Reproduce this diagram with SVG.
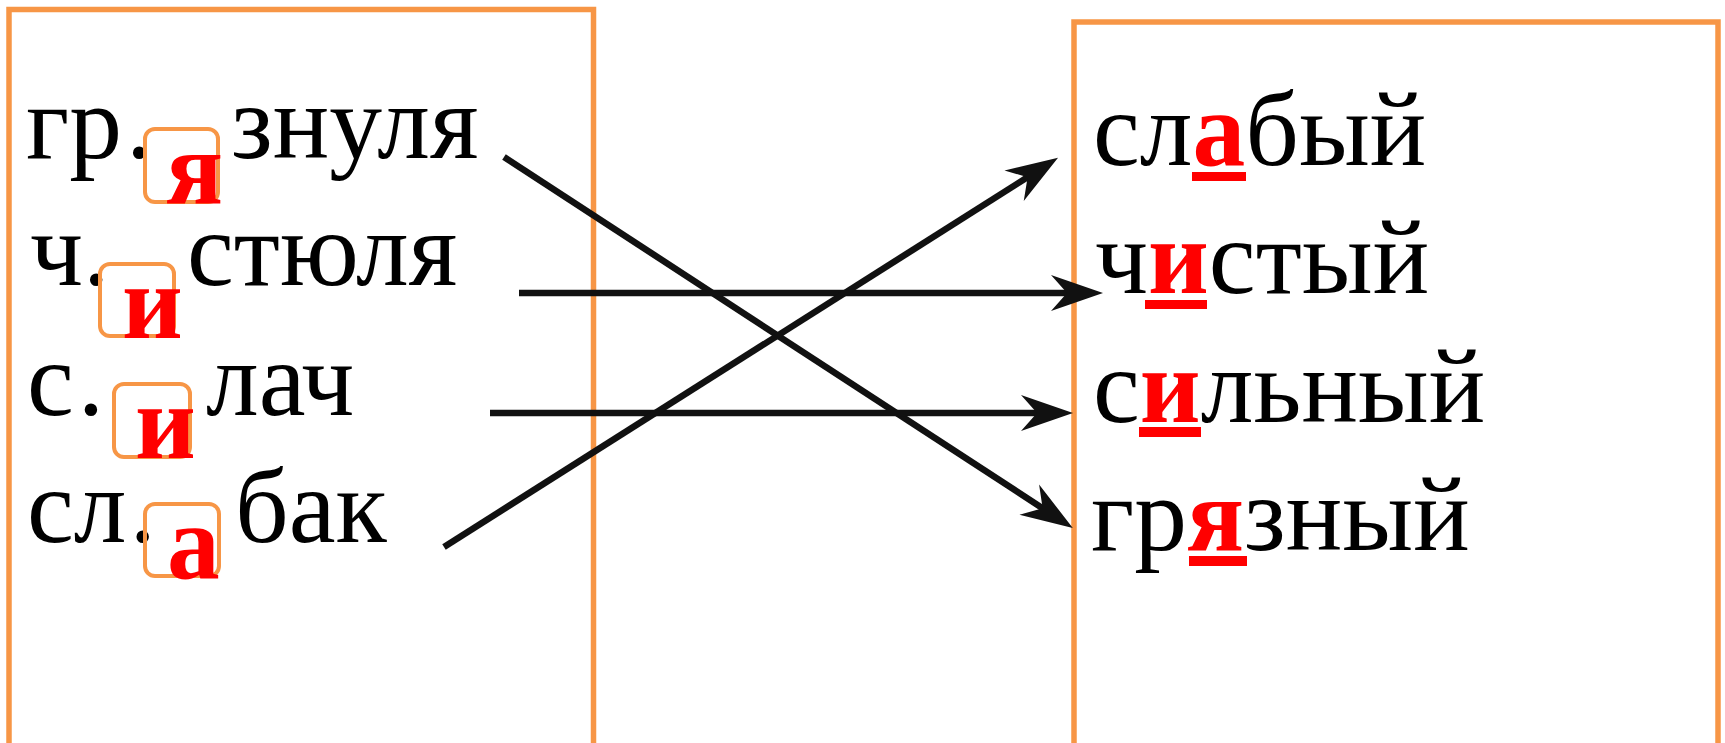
<svg xmlns="http://www.w3.org/2000/svg" width="1725" height="743" viewBox="0 0 1725 743">
<style>
.frame{fill:none;stroke:#F79646;stroke-width:5.5}
.slot{fill:none;stroke:#F79646;stroke-width:4}
.w{font-size:105.5px;fill:#000}
.r{font-weight:bold;fill:#FF0000}
.ul{fill:#FF0000}
.con{stroke:#111;stroke-width:6.5;fill:none}
</style>
<defs>
<marker id="ah" markerUnits="userSpaceOnUse" viewBox="0 0 56 40" markerWidth="56" markerHeight="40" refX="24" refY="20" orient="auto">
<path d="M56,20 L4,2 L20,20 L4,38 Z" fill="#111"/>
</marker>
</defs>
<rect width="1725" height="743" fill="#fff"/>
<g id="left-box"><rect class="frame" x="9" y="9.5" width="584.5" height="745"/></g>
<g id="right-box"><rect class="frame" x="1074" y="22" width="644" height="735"/></g>

<g font-family="Liberation Serif">
<g id="left-1">
<text class="w" x="26" y="158">гр<tspan dx="4">.</tspan></text>
<rect class="slot" x="145" y="129" width="73" height="73" rx="10"/>
<text class="w r" x="166" y="203">я</text>
<text class="w" x="231" y="158">знуля</text>
</g>
<g id="left-2">
<text class="w" x="30" y="285">ч.</text>
<rect class="slot" x="100" y="264" width="74" height="72" rx="10"/>
<text class="w r" x="122" y="338">и</text>
<text class="w" x="187" y="285">стюля</text>
</g>
<g id="left-3">
<text class="w" x="27" y="415">с<tspan dx="4">.</tspan></text>
<rect class="slot" x="114" y="384" width="76" height="73" rx="10"/>
<text class="w r" x="135" y="458">и</text>
<text class="w" x="206" y="415">лач</text>
</g>
<g id="left-4">
<text class="w" x="27" y="542">сл<tspan dx="3">.</tspan></text>
<rect class="slot" x="145" y="504" width="74" height="72" rx="10"/>
<text class="w r" x="167" y="578">а</text>
<text class="w" x="235" y="542">бак</text>
</g>

<g id="right-1">
<text class="w" x="1093" y="165">сл<tspan class="r">а</tspan>бый</text>
<rect class="ul" x="1192" y="172" width="54" height="9"/>
</g>
<g id="right-2">
<text class="w" x="1095" y="293">ч<tspan class="r">и</tspan>стый</text>
<rect class="ul" x="1145" y="300" width="62" height="9"/>
</g>
<g id="right-3">
<text class="w" x="1093" y="422">с<tspan class="r">и</tspan>льный</text>
<rect class="ul" x="1139" y="427" width="62" height="10"/>
</g>
<g id="right-4">
<text class="w" x="1091" y="550">гр<tspan class="r">я</tspan>зный</text>
<rect class="ul" x="1189" y="556" width="58" height="10"/>
</g>
</g>

<g id="connectors">
<line class="con" x1="504" y1="157" x2="1046" y2="510.5" marker-end="url(#ah)"/>
<line class="con" x1="519" y1="293" x2="1071" y2="293" marker-end="url(#ah)"/>
<line class="con" x1="490" y1="413" x2="1041" y2="413" marker-end="url(#ah)"/>
<line class="con" x1="444" y1="547" x2="1031" y2="175" marker-end="url(#ah)"/>
</g>
</svg>
